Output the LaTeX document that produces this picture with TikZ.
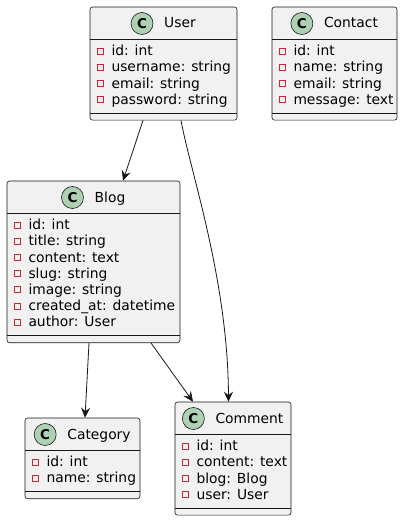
\documentclass[tikz,border=0pt]{standalone}
\usepackage{fontspec}
\setmainfont{DejaVu Sans}
\usetikzlibrary{arrows.meta}
\definecolor{boxfill}{HTML}{F1F1F1}
\definecolor{boxline}{HTML}{181818}
\definecolor{circfill}{HTML}{ADD1B2}
\definecolor{privred}{HTML}{C82930}
\tikzset{
  cls/.style={draw=boxline, fill=boxfill, line width=0.6pt, rounded corners=2.5pt, rectangle, inner sep=0pt},
  sepline/.style={draw=boxline, line width=0.6pt},
  ttl/.style={inner sep=0pt, font=\fontsize{13.85}{16}\selectfont, text=black},
  circ/.style={circle, draw=boxline, line width=0.6pt, fill=circfill, minimum size=22pt, inner sep=0pt, font=\fontsize{13.5}{16}\selectfont\bfseries},
  privmark/.style={rectangle, draw=privred, line width=0.7pt, minimum size=6pt, inner sep=0pt},
  attr/.style={anchor=base west, inner sep=0pt, font=\fontsize{13.85}{16}\selectfont, text=black},
  arr/.style={draw=boxline, line width=0.8pt, -{Stealth[length=10pt,width=9pt,inset=3.5pt]}}
}
\newcommand\classbox[7]{%
  \pgfmathsetmacro\cbx{(#2+#3)/2}%
  \pgfmathsetmacro\cbbot{#4+44+16.2*(#5-1)+13.5+7}%
  \pgfmathsetmacro\cby{(#4+\cbbot)/2}%
  \pgfmathsetmacro\cbh{\cbbot-#4}%
  \pgfmathsetmacro\cbw{#3-#2}%
  \pgfmathsetmacro\cbsep{\cbbot-7}%
  \pgfmathsetmacro\cbhead{#4+32}%
  \pgfmathsetmacro\cbtb{#4+21}%
  \pgfmathsetmacro\cbcy{#4+16.5}%
  \pgfmathsetmacro\cbtx{\cbx+16.5}%
  \node[cls, minimum width=\cbw pt, minimum height=\cbh pt] (#1) at (\cbx,\cby) {};
  \draw[sepline] (#2,\cbhead) -- (#3,\cbhead);
  \draw[sepline] (#2,\cbsep) -- (#3,\cbsep);
  \node[ttl, anchor=base] (#1-t) at (\cbtx,\cbtb) {#6};
  \path (#1-t.west) ++(-22pt,0) coordinate (#1-cc);
  \node[circ] (#1-c) at (#1-cc |- 0,\cbcy) {C};
  \foreach \t [count=\i from 0] in {#7} {
    \pgfmathsetmacro\ry{#4+44+16.2*\i}
    \pgfmathsetmacro\rb{\ry+4.7}
    \node[privmark] (#1-m\i) at (#2+10.7,\ry) {};
    \node[attr] (#1-a\i) at (#2+21.3,\rb) {\t};
  }
}
\begin{document}
\begin{tikzpicture}[x=1pt,y=-1pt]
\useasboundingbox[fill=white] (0,0) rectangle (403,521);
\classbox{user}{90}{237}{7}{4}{User}{id: int, username: string, email: string, password: string}
\classbox{contact}{272}{397}{7}{4}{Contact}{id: int, name: string, email: string, message: text}
\classbox{blog}{7}{180}{181}{7}{Blog}{id: int, title: string, content: text, slug: string, image: string, created\_at: datetime, author: User}
\classbox{category}{25}{140}{418}{2}{Category}{id: int, name: string}
\classbox{comment}{175}{291}{402}{4}{Comment}{id: int, content: text, blog: Blog, user: User}
\draw[arr] ([xshift=-20.5pt]user.south) -- ([xshift=29.5pt]blog.north);
\draw[arr] ([xshift=17.5pt]user.south) .. controls +(9,50) and +(-0.5,-122) .. ([xshift=-4.5pt]comment.north);
\draw[arr] ([xshift=-4.5pt]blog.south) -- ([xshift=2.5pt]category.north);
\draw[arr] ([xshift=57.5pt]blog.south) -- ([xshift=-40pt]comment.north);
\end{tikzpicture}
\end{document}
